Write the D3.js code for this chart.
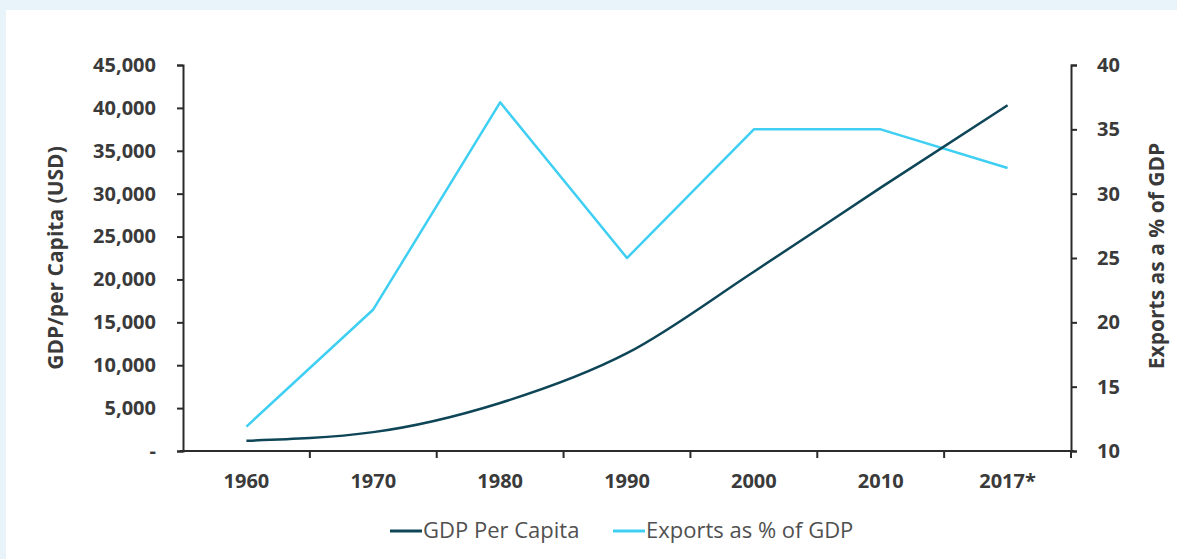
<!DOCTYPE html>
<html>
<head>
<meta charset="utf-8">
<script src="https://cdn.jsdelivr.net/npm/d3@7"></script>
<style>
  html, body { margin: 0; padding: 0; background: #e8f4fa; }
  svg { display: block; }
  text { font-family: "Open Sans", "Noto Sans", sans-serif; }
</style>
</head>
<body>
<svg id="chart" width="1177" height="559"></svg>
<script>
const years = ["1960", "1970", "1980", "1990", "2000", "2010", "2017*"];
const gdpPerCapita = [1200, 2200, 5600, 11400, 20900, 30700, 40300];
const exportsPct = [11.9, 21, 37.1, 25, 35, 35, 32];
const leftTicks = [0, 5000, 10000, 15000, 20000, 25000, 30000, 35000, 40000, 45000];
const rightTicks = [10, 15, 20, 25, 30, 35, 40];
const seriesNames = ["GDP Per Capita", "Exports as % of GDP"];
const seriesColors = ["#0e4658", "#3fcff2"];

(function () {
const svg = d3.select("#chart");
svg.append("rect").attr("x", 6).attr("y", 10).attr("width", 1171).attr("height", 549).attr("fill", "#ffffff");

const mLeft = 183, mRight = 1071, mTop = 65, mBottom = 451;

const x = d3.scaleBand().domain(years).range([mLeft, mRight]).padding(0);
const cx = d => x(d) + x.bandwidth() / 2;
const yL = d3.scaleLinear().domain([0, 45000]).range([mBottom, mTop]);
const yR = d3.scaleLinear().domain([10, 40]).range([mBottom, mTop]);

const axisColor = "#2b2b2b";
const labelColor = "#3a3a3a";
const tickFont = "20px";

const gL = svg.append("g").attr("transform", `translate(${mLeft},0)`)
  .call(d3.axisLeft(yL).tickValues(leftTicks).tickSize(6).tickPadding(21)
    .tickFormat(d => d === 0 ? "-" : d3.format(",")(d)));
const gR = svg.append("g").attr("transform", `translate(${mRight},0)`)
  .call(d3.axisRight(yR).tickValues(rightTicks).tickSize(6).tickPadding(20));

[gL, gR].forEach(g => {
  g.select(".domain").attr("stroke", axisColor).attr("stroke-width", 2);
  g.selectAll(".tick line").attr("stroke", axisColor).attr("stroke-width", 2);
  g.selectAll(".tick text").attr("fill", labelColor).style("font-size", tickFont).style("font-weight", "700");
});

const gB = svg.append("g");
gB.append("line").attr("x1", mLeft - 3).attr("x2", mRight + 3).attr("y1", mBottom).attr("y2", mBottom)
  .attr("stroke", axisColor).attr("stroke-width", 2);
const boundaries = years.slice(1).map(d => x(d)).concat([mRight]);
gB.selectAll("line.tk").data(boundaries).enter().append("line").attr("class", "tk")
  .attr("x1", d => d).attr("x2", d => d).attr("y1", mBottom).attr("y2", mBottom + 7)
  .attr("stroke", axisColor).attr("stroke-width", 2);
gB.selectAll("text.xl").data(years).enter().append("text").attr("class", "xl")
  .attr("x", d => cx(d)).attr("y", mBottom + 37).attr("text-anchor", "middle")
  .attr("fill", labelColor).style("font-size", tickFont).style("font-weight", "700").text(d => d);

svg.append("text").attr("transform", `translate(63,${(mTop + mBottom) / 2}) rotate(-90)`)
  .attr("text-anchor", "middle").attr("fill", labelColor).style("font-size", "21px").style("font-weight", "700")
  .text("GDP/per Capita (USD)");
svg.append("text").attr("transform", `translate(1164,${(mTop + mBottom) / 2 - 2}) rotate(-90)`)
  .attr("text-anchor", "middle").attr("fill", labelColor).style("font-size", "21px").style("font-weight", "700")
  .text("Exports as a % of GDP");

const gdpLine = d3.line().x((d, i) => cx(years[i])).y(d => yL(d)).curve(d3.curveMonotoneX);
const expLine = d3.line().x((d, i) => cx(years[i])).y(d => yR(d));
svg.append("path").datum(exportsPct).attr("d", expLine).attr("fill", "none")
  .attr("stroke", seriesColors[1]).attr("stroke-width", 2.5).attr("stroke-linejoin", "round");
svg.append("path").datum(gdpPerCapita).attr("d", gdpLine).attr("fill", "none")
  .attr("stroke", seriesColors[0]).attr("stroke-width", 2.5).attr("stroke-linejoin", "round");

const legendItems = [{ x: 390, name: seriesNames[0], color: seriesColors[0] },
                     { x: 613, name: seriesNames[1], color: seriesColors[1] }];
const lg = svg.append("g");
legendItems.forEach(it => {
  lg.append("line").attr("x1", it.x).attr("x2", it.x + 32).attr("y1", 531).attr("y2", 531)
    .attr("stroke", it.color).attr("stroke-width", 3);
  lg.append("text").attr("x", it.x + 33).attr("y", 538).attr("fill", "#505050")
    .style("font-size", "22px").text(it.name);
});
})();
</script>
</body>
</html>
